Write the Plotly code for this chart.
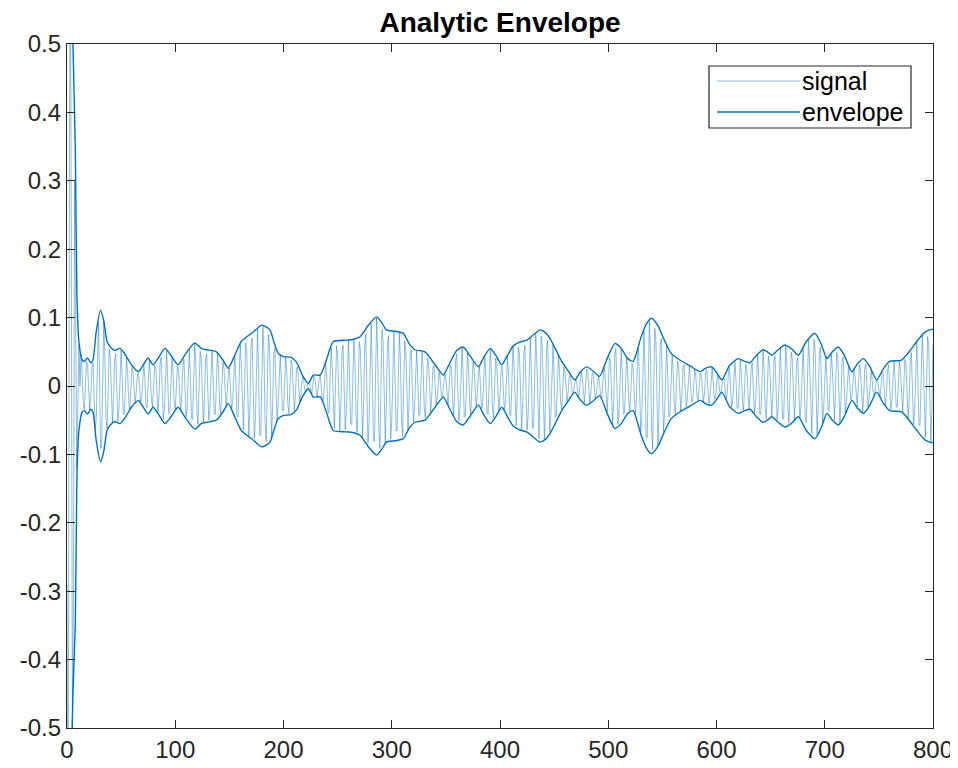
import numpy as np
import plotly.graph_objects as go

# ---- data ----
# upper envelope control points (x, value)
env_x = [0, 3, 5.5, 7.7, 9.2, 11, 14, 16, 19, 22, 24, 27, 31, 34, 37, 40, 44, 49, 52, 55,
         60, 66, 70, 75, 79.5, 84, 90.5, 96, 102.6, 110, 118, 124, 129, 138, 144, 149, 155,
         161, 172, 180, 187.5, 191, 195, 200, 207, 212, 218, 223, 227.5, 234, 240, 246, 258,
         264, 270.7, 278, 286, 291, 295, 303, 310.7, 316, 321.5, 330.7, 340, 347.6, 351, 355,
         360, 366, 372, 380, 385, 391, 396, 401.6, 407, 412, 418, 424.7, 431, 437, 442, 446,
         451, 457, 463, 469, 474, 480, 486, 492, 499, 506, 512, 518, 523, 530, 535, 540, 546,
         551, 558, 566, 575, 585, 590, 595.6, 600, 605, 612, 620, 626, 631, 637, 643, 647, 651,
         657, 663, 669, 675.6, 683, 691, 697, 702, 707, 712.5, 718, 725, 730, 735.6, 741, 748,
         754, 760, 771, 778, 785, 792, 797, 800]
env_upper = [0.80, 0.70, 0.50, 0.345, 0.13, 0.065, 0.038, 0.036, 0.041, 0.034, 0.038, 0.08,
             0.111, 0.095, 0.065, 0.057, 0.052, 0.055, 0.05, 0.043, 0.03, 0.021, 0.03, 0.041,
             0.031, 0.040, 0.055, 0.045, 0.031, 0.048, 0.063, 0.055, 0.053, 0.050, 0.038, 0.026,
             0.045, 0.065, 0.079, 0.089, 0.082, 0.065, 0.048, 0.043, 0.042, 0.035, 0.014, 0.004,
             0.016, 0.016, 0.04, 0.065, 0.067, 0.068, 0.072, 0.088, 0.101, 0.092, 0.082, 0.08,
             0.077, 0.062, 0.053, 0.050, 0.031, 0.016, 0.025, 0.038, 0.052, 0.057, 0.045, 0.028,
             0.042, 0.055, 0.045, 0.031, 0.045, 0.058, 0.064, 0.067, 0.075, 0.082, 0.078, 0.070,
             0.055, 0.036, 0.022, 0.009, 0.02, 0.028, 0.022, 0.014, 0.04, 0.062, 0.055, 0.04,
             0.036, 0.07, 0.09, 0.099, 0.088, 0.070, 0.048, 0.038, 0.030, 0.021, 0.026, 0.028,
             0.02, 0.009, 0.03, 0.040, 0.036, 0.034, 0.045, 0.053, 0.05, 0.045, 0.053, 0.060,
             0.055, 0.045, 0.065, 0.077, 0.06, 0.040, 0.05, 0.057, 0.045, 0.021, 0.032, 0.040,
             0.03, 0.009, 0.025, 0.036, 0.038, 0.05, 0.065, 0.078, 0.082, 0.083]
# lower envelope start differs from the mirrored upper one
env_lower_head = [-0.80, -0.62, -0.45, -0.345, -0.13]

# signal: first samples read directly, then the carrier period read from the stripes
sig_head = [-0.29, -0.75, 0.15, 0.75, 0.2, -0.5, -0.3, 0.3, 0.1, -0.12, -0.03, 0.06, 0.0]
carrier_period = 5.25
n_samples = 801

# ---- build series ----
env_lower = env_lower_head + [-v for v in env_upper[len(env_lower_head):]]
sx = np.arange(n_samples)
amp = np.interp(sx, env_x, env_upper)
sig = amp * np.cos(2 * np.pi * sx / carrier_period + np.pi)
sig[:len(sig_head)] = sig_head

blue = "#0072BD"
light = "rgba(0,114,189,0.45)"
axis_col = "#262626"
font_fam = "Liberation Sans, Arial, sans-serif"

fig = go.Figure()
fig.add_trace(go.Scatter(x=sx, y=sig, mode="lines", name="signal",
                         line=dict(color=light, width=1), showlegend=False))
fig.add_trace(go.Scatter(x=env_x, y=env_upper, mode="lines", name="envelope",
                         line=dict(color=blue, width=1.4, shape="spline", smoothing=0.6),
                         showlegend=False))
fig.add_trace(go.Scatter(x=env_x, y=env_lower, mode="lines", name="envelope",
                         line=dict(color=blue, width=1.4, shape="spline", smoothing=0.6),
                         showlegend=False))

W, H = 958, 768
OFF = 8  # page offset of the figure in the browser
# plot area in screen pixels
SX0, SX1, SY0, SY1 = 67, 933, 44, 728
L, R = SX0 - OFF, W - (SX1 - OFF)
T, B = SY0 - OFF, H - (SY1 - OFF)
pw, ph = SX1 - SX0, SY1 - SY0


def px(xp):
    return (xp - SX0) / pw


def py(yp):
    return (SY1 - yp) / ph


shapes = [
    dict(type="rect", xref="paper", yref="paper", x0=px(709), x1=px(911), y0=py(128), y1=py(66),
         line=dict(color=axis_col, width=1.2), fillcolor="white", layer="above"),
    dict(type="line", xref="paper", yref="paper", x0=px(717), x1=px(800), y0=py(81), y1=py(81),
         line=dict(color=light, width=1.2), layer="above"),
    dict(type="line", xref="paper", yref="paper", x0=px(717), x1=px(800), y0=py(112), y1=py(112),
         line=dict(color=blue, width=1.6), layer="above"),
]
annotations = [
    dict(text="signal", xref="paper", yref="paper", x=px(800), y=py(81), xanchor="left",
         yanchor="middle", showarrow=False, font=dict(family=font_fam, size=25, color="black")),
    dict(text="envelope", xref="paper", yref="paper", x=px(800), y=py(112), xanchor="left",
         yanchor="middle", showarrow=False, font=dict(family=font_fam, size=25, color="black")),
]

fig.update_layout(
    width=W, height=H,
    margin=dict(l=L, r=R, t=T, b=B),
    paper_bgcolor="white", plot_bgcolor="white",
    title=dict(text="<b>Analytic Envelope</b>", x=px(500), xanchor="center", xref="paper",
               y=1 - (22 - OFF) / H, yanchor="middle",
               font=dict(family=font_fam, size=28, color="black")),
    shapes=shapes, annotations=annotations,
    showlegend=False,
    font=dict(family=font_fam, color=axis_col),
)
fig.update_xaxes(range=[0, 800], tickmode="array", tickvals=list(range(0, 801, 100)),
                 ticks="inside", ticklen=8, tickcolor=axis_col, showline=True, linecolor=axis_col,
                 linewidth=1.2, mirror="ticks", showgrid=False, zeroline=False,
                 tickfont=dict(size=24, color=axis_col))
yt = [round(-0.5 + 0.1 * i, 1) for i in range(11)]
fig.update_yaxes(range=[-0.5, 0.5], tickmode="array", tickvals=yt,
                 ticktext=[("0" if v == 0 else f"{v:g}") for v in yt],
                 ticks="inside", ticklen=8, tickcolor=axis_col, showline=True, linecolor=axis_col,
                 linewidth=1.2, mirror="ticks", showgrid=False, zeroline=False,
                 tickfont=dict(size=24, color=axis_col))

fig.write_html("out.html")
